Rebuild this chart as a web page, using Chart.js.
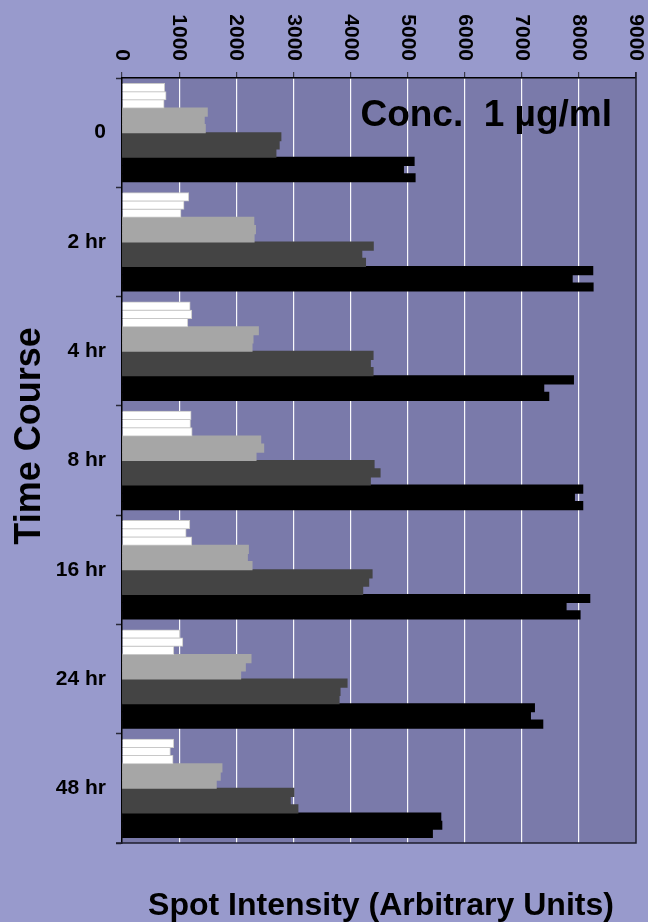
<!DOCTYPE html>
<html>
<head>
<meta charset="utf-8">
<script src="https://cdn.jsdelivr.net/npm/chart.js@4.4.0/dist/chart.umd.min.js"></script>
<style>
html,body{margin:0;padding:0;background:#989acc;}
canvas{display:block;}
</style>
</head>
<body>
<canvas id="c" width="648" height="922"></canvas>
<script>
// ---- data ----
const categories = ['0', '2 hr', '4 hr', '8 hr', '16 hr', '24 hr', '48 hr'];

const white1 = [745, 1167, 1191, 1208, 1185, 1010, 904];
const white2 = [770, 1084, 1220, 1197, 1121, 1063, 845];
const white3 = [735, 1031, 1150, 1226, 1220, 905, 892];

const gray1 = [1493, 2308, 2388, 2429, 2213, 2259, 1750];
const gray2 = [1440, 2337, 2294, 2481, 2195, 2160, 1720];
const gray3 = [1458, 2313, 2277, 2347, 2277, 2078, 1650];

const dark1 = [2782, 4400, 4396, 4414, 4379, 3941, 3010];
const dark2 = [2752, 4199, 4349, 4519, 4320, 3818, 2946];
const dark3 = [2695, 4264, 4396, 4349, 4215, 3801, 3080];

const black1 = [5115, 8243, 7905, 8068, 8191, 7222, 5582];
const black2 = [4928, 7883, 7385, 7922, 7776, 7152, 5600];
const black3 = [5132, 8249, 7473, 8068, 8021, 7368, 5435];

const xTickLabels = ['0', '1000', '2000', '3000', '4000', '5000', '6000', '7000', '8000', '9000'];

const yTitle = 'Time Course';
const xTitle = 'Spot Intensity (Arbitrary Units)';
const noteText = 'Conc.  1 \u00b5g/ml';

// ---- styles ----
const FONT = '"Liberation Sans", Arial, Helvetica, sans-serif';
const OUTER_BG = '#989acc';
const PLOT_BG = '#7a7aaa';

const groups = [
  {rows: [white1, white2, white3], fill: '#ffffff', edge: '#c8c8c8', bw: 1},
  {rows: [gray1, gray2, gray3], fill: '#a6a6a6', edge: '#a6a6a6', bw: 0},
  {rows: [dark1, dark2, dark3], fill: '#444444', edge: '#444444', bw: 0},
  {rows: [black1, black2, black3], fill: '#000000', edge: '#000000', bw: 0}
];

const datasets = [];
groups.forEach((g, gi) => {
  g.rows.forEach((vals, ri) => {
    datasets.push({
      label: 'series ' + (gi + 1) + '.' + (ri + 1),
      data: vals,
      backgroundColor: g.fill,
      borderColor: g.edge,
      borderWidth: g.bw,
      borderSkipped: 'start',
      inflateAmount: 0.5,
      categoryPercentage: 0.9,
      barPercentage: 1.0
    });
  });
});

const decor = {
  id: 'decor',
  beforeDraw(chart) {
    const {ctx, chartArea: a} = chart;
    ctx.save();
    ctx.fillStyle = OUTER_BG;
    ctx.fillRect(0, 0, chart.width, chart.height);
    ctx.fillStyle = PLOT_BG;
    ctx.fillRect(a.left, a.top, a.right - a.left, a.bottom - a.top);
    ctx.restore();
  },
  afterDraw(chart) {
    const {ctx, chartArea: a} = chart;
    const x = chart.scales.x;
    ctx.save();
    // right and bottom frame of plot area
    ctx.strokeStyle = '#1e1e2e';
    ctx.lineWidth = 1.5;
    ctx.beginPath();
    ctx.moveTo(a.right, a.top - 6);
    ctx.lineTo(a.right, a.bottom);
    ctx.lineTo(a.left - 6, a.bottom);
    ctx.stroke();

    // x tick labels, rotated clockwise
    ctx.fillStyle = '#000';
    ctx.font = 'bold 21px ' + FONT;
    ctx.textAlign = 'right';
    ctx.textBaseline = 'middle';
    xTickLabels.forEach(lbl => {
      const px = x.getPixelForValue(Number(lbl));
      ctx.save();
      ctx.translate(px, 61);
      ctx.rotate(Math.PI / 2);
      ctx.fillText(lbl, 0, 0);
      ctx.restore();
    });

    // y title
    ctx.save();
    ctx.font = 'bold 36px ' + FONT;
    ctx.textAlign = 'center';
    ctx.textBaseline = 'middle';
    ctx.translate(30, 436);
    ctx.rotate(-Math.PI / 2);
    ctx.fillText(yTitle, 0, 0);
    ctx.restore();

    // x title (below the plot)
    ctx.font = 'bold 32px ' + FONT;
    ctx.textAlign = 'center';
    ctx.textBaseline = 'alphabetic';
    ctx.fillText(xTitle, 381, 915);

    // concentration note
    ctx.font = 'bold 37px ' + FONT;
    ctx.textAlign = 'right';
    ctx.textBaseline = 'alphabetic';
    ctx.fillText(noteText, 612, 126);
    ctx.restore();
  }
};

new Chart(document.getElementById('c'), {
  type: 'bar',
  data: {labels: categories, datasets},
  options: {
    indexAxis: 'y',
    responsive: false,
    animation: false,
    devicePixelRatio: 1,
    layout: {padding: {left: 0, right: 12, top: 0, bottom: 79}},
    plugins: {
      legend: {display: false},
      tooltip: {enabled: false},
      title: {display: false}
    },
    scales: {
      x: {
        position: 'top',
        min: 0,
        max: 9000,
        ticks: {display: false, stepSize: 1000},
        afterFit(scale) { scale.height = 78; },
        border: {display: true, color: '#000', width: 1.5},
        grid: {
          drawOnChartArea: true,
          color: c => (c.tick && (c.tick.value === 0 || c.tick.value === 9000)) ? 'rgba(0,0,0,0)' : 'rgba(255,255,255,0.95)',
          lineWidth: 1.2,
          borderDash: [4, 4],
          tickColor: '#3a3a4a',
          tickBorderDash: [],
          tickLength: 6,
          tickWidth: 1.2
        }
      },
      y: {
        position: 'left',
        afterFit(scale) { scale.width = 122; },
        border: {display: true, color: '#000', width: 1.5},
        grid: {
          drawOnChartArea: false,
          offset: true,
          tickLength: 6,
          tickColor: '#2a2a3a',
          tickWidth: 1.5
        },
        ticks: {
          color: '#000',
          padding: 10,
          font: {family: FONT, size: 21, weight: 'bold'}
        }
      }
    }
  },
  plugins: [decor]
});
</script>
</body>
</html>
